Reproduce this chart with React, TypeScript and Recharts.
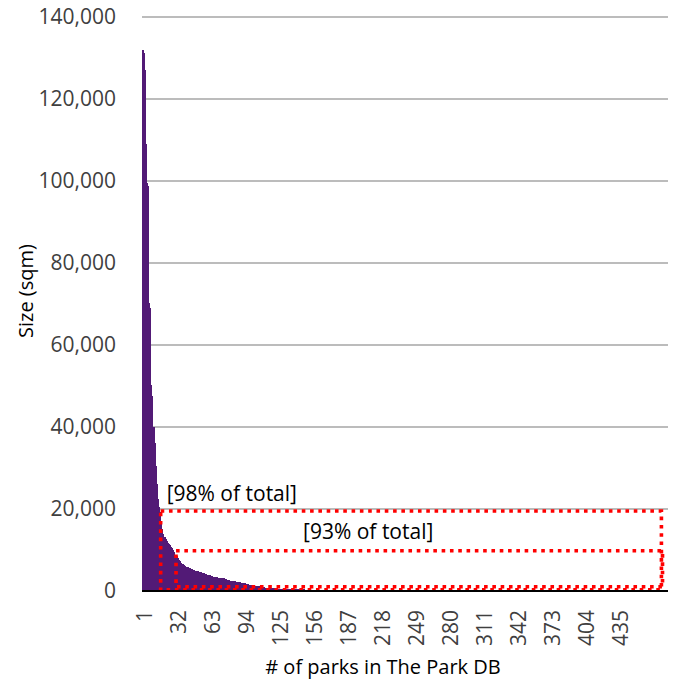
import React from "react";
import { Bar, BarChart, CartesianGrid, Label, ReferenceArea, XAxis, YAxis } from "recharts";

// park sizes in sqm, ranked from biggest to smallest
const SIZES_TOP = [
  131900, 131200, 127000, 109000, 99600, 98800, 70200, 69000, 50200, 47500,
  40000, 36000, 30500, 26000, 22500, 20500, 19200, 17000, 15200, 14000,
  13200, 12600, 12100, 11700, 11400, 11100, 10800, 10500, 9900, 9400,
  8900, 8500, 8000, 7600, 7200, 6900, 6700, 6500, 6300, 6100,
  5950, 5800, 5700, 5600, 5450, 5300, 5200, 5100, 5000, 4900,
];

const SIZES_MID = [
  4800, 4700, 4600, 4550, 4450, 4400, 4300, 4250, 4150, 4000,
  3900, 3800, 3700, 3550, 3450, 3400, 3350, 3300, 3300, 3250,
  3250, 3200, 3200, 3150, 3100, 3000, 2900, 2800, 2700, 2600,
  2550, 2500, 2450, 2400, 2350, 2300, 2250, 2200, 2150, 2100,
  2050, 2000, 1900, 1850, 1750, 1700, 1600, 1550, 1500, 1450,
  1400, 1350, 1300, 1250, 1200, 1150, 1100, 1050, 1000, 950,
  900, 870, 830, 800, 770, 740, 710, 690, 670, 650,
  630, 610, 600, 590, 570, 560, 550, 540, 530, 520,
  510, 500, 480, 470, 460, 452, 445, 438, 430, 422,
  415, 408, 400, 394, 388, 382, 376, 370, 365, 360,
];

const SIZES_TAIL = [
  355, 350, 346, 342, 338, 334, 330, 326, 322, 318,
  314, 310, 306, 302, 298, 295, 292, 289, 286, 283,
  280, 277, 274, 271, 268, 265, 262, 260, 258, 256,
  254, 252, 250, 248, 246, 244, 242, 240, 238, 236,
  234, 232, 230, 228, 226, 224, 222, 220, 218, 216,
  214, 212, 210, 208, 206, 204, 202, 200, 198, 196,
  194, 192, 190, 188, 186, 184, 182, 180, 178, 176,
  175, 174, 172, 171, 170, 168, 167, 166, 164, 163,
  162, 160, 159, 158, 157, 156, 154, 153, 152, 151,
  150, 149, 148, 146, 145, 144, 143, 142, 141, 140,
  139, 138, 137, 136, 135, 134, 133, 132, 131, 130,
  129, 128, 127, 126, 125, 124, 123, 122, 121, 120,
  119, 118, 117, 116, 115, 114, 113, 112, 111, 110,
  109, 108, 107, 106, 105, 104, 103, 102, 101, 100,
  99, 98, 97, 96, 95, 94, 93, 92, 91, 90,
  89, 89, 88, 88, 87, 87, 86, 86, 85, 85,
  84, 84, 83, 83, 82, 82, 81, 81, 80, 80,
  79, 79, 78, 78, 77, 77, 76, 76, 75, 75,
  74, 74, 73, 73, 72, 72, 71, 71, 70, 70,
  69, 69, 68, 68, 67, 67, 66, 66, 65, 65,
  64, 64, 63, 63, 62, 62, 61, 61, 60, 60,
  59, 59, 58, 58, 57, 57, 56, 56, 55, 55,
  54, 54, 53, 53, 52, 52, 51, 51, 50, 50,
  49, 49, 48, 48, 47, 47, 46, 46, 45, 45,
  44, 44, 43, 43, 42, 42, 41, 41, 40, 40,
  39, 39, 38, 38, 37, 37, 36, 36, 35, 35,
  34, 34, 33, 33, 32, 32, 31, 31, 30, 30,
  29, 29, 28, 28, 27, 27, 26, 26, 25, 25,
  24, 24, 23, 23, 22, 22, 21, 21, 20, 20,
  19, 19, 18, 18, 17, 17, 16, 16, 15, 15,
  14, 14, 14, 13, 13, 13, 12, 12, 12, 11,
  11, 11, 10, 10, 10, 9, 9, 9, 8, 8,
  8, 7, 7, 6, 6, 5, 5, 4, 3,
];

const SIZES = [...SIZES_TOP, ...SIZES_MID, ...SIZES_TAIL];
const RANKS = SIZES.map((_, i) => i + 1);

const X_TICKS = [1, 32, 63, 94, 125, 156, 187, 218, 249, 280, 311, 342, 373, 404, 435];
const Y_TICKS = [0, 20000, 40000, 60000, 80000, 100000, 120000, 140000];

// dotted boxes: rank range and size range
const BOX_98 = { from: 18, to: 473, low: 300, high: 19500, text: "[98% of total]" };
const BOX_93 = { from: 32, to: 474, low: 1050, high: 9800, text: "[93% of total]" };

const data = RANKS.map((rank, i) => ({ rank, size: SIZES[i] }));

const PURPLE = "#521A76";
const FONT = "'Open Sans', sans-serif";

function XTick({ x, y, payload }: any) {
  return (
    <text
      x={x + 1}
      y={y}
      transform={`rotate(-90, ${x + 1}, ${y})`}
      textAnchor="end"
      dominantBaseline="central"
      fontSize={21}
      fill="#404040"
      fontFamily={FONT}
    >
      {payload.value}
    </text>
  );
}

// recharts floors the bar width to 1px here; overlap a little and skip antialiasing
// so the 479 thin bars read as one solid shape
function SolidBar({ x, y, width, height }: any) {
  if (!height || height <= 0) return null;
  return (
    <rect
      x={x}
      y={y}
      width={width + 0.6}
      height={height}
      fill={PURPLE}
      shapeRendering="crispEdges"
    />
  );
}

function BoxLabel({ viewBox, text, dx, dy }: any) {
  return (
    <text x={viewBox.x + dx} y={viewBox.y + dy} fontSize={21} fill="#000" fontFamily={FONT}>
      {text}
    </text>
  );
}

export default function App() {
  return (
    <div style={{ width: 680, height: 697, margin: "-8px 0 0 -8px" }}>
      <BarChart
        width={680}
        height={697}
        data={data}
        margin={{ top: 17, right: 12, bottom: 0, left: 8 }}
        barCategoryGap={0}
        barGap={0}
        style={{ fontFamily: FONT }}
      >
        <CartesianGrid vertical={false} stroke="#A6A6A6" strokeWidth={1.5} />
        <XAxis
          dataKey="rank"
          type="category"
          ticks={X_TICKS}
          interval={0}
          tickLine={false}
          tickSize={0}
          tickMargin={19}
          tick={<XTick />}
          height={106}
          axisLine={{ stroke: "#000", strokeWidth: 2 }}
        >
          <Label
            content={({ viewBox }: any) => (
              <text
                x={viewBox.x + viewBox.width / 2 - 22}
                y={viewBox.y + 83}
                textAnchor="middle"
                fontSize={20}
                fill="#000"
                fontFamily={FONT}
              >
                # of parks in The Park DB
              </text>
            )}
          />
        </XAxis>
        <YAxis
          domain={[0, 140000]}
          ticks={Y_TICKS}
          width={134}
          axisLine={false}
          tickLine={false}
          tickSize={0}
          tickMargin={26}
          tickFormatter={(v: number) => v.toLocaleString("en-US")}
          tick={{ fontSize: 21, fill: "#404040", fontFamily: FONT }}
        >
          <Label
            content={({ viewBox }: any) => {
              const cx = viewBox.x + 17;
              const cy = viewBox.y + viewBox.height / 2 - 13;
              return (
                <text
                  x={cx}
                  y={cy}
                  transform={`rotate(-90, ${cx}, ${cy})`}
                  textAnchor="middle"
                  dominantBaseline="central"
                  fontSize={20}
                  fill="#000"
                  fontFamily={FONT}
                >
                  Size (sqm)
                </text>
              );
            }}
          />
        </YAxis>
        <Bar dataKey="size" fill={PURPLE} shape={<SolidBar />} isAnimationActive={false} />
        <ReferenceArea
          x1={BOX_98.from}
          x2={BOX_98.to}
          y1={BOX_98.low}
          y2={BOX_98.high}
          fill="none"
          fillOpacity={0}
          stroke="#FF0000"
          strokeWidth={3.6}
          strokeDasharray="3.6 4.7"
          zIndex={400}
          label={<BoxLabel text={BOX_98.text} dx={6} dy={-10} />}
        />
        <ReferenceArea
          x1={BOX_93.from}
          x2={BOX_93.to}
          y1={BOX_93.low}
          y2={BOX_93.high}
          fill="none"
          fillOpacity={0}
          stroke="#FF0000"
          strokeWidth={3.6}
          strokeDasharray="3.6 4.7"
          zIndex={400}
          label={<BoxLabel text={BOX_93.text} dx={127} dy={-12} />}
        />
      </BarChart>
    </div>
  );
}
